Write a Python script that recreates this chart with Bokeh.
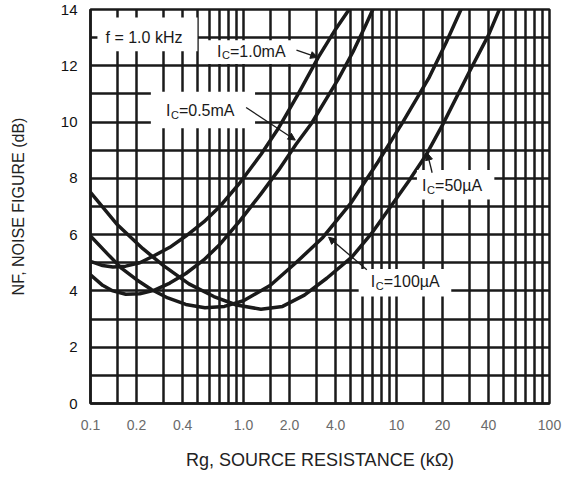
from bokeh.plotting import figure
from bokeh.models import FixedTicker, Label, Arrow, NormalHead, BoxAnnotation
from bokeh.embed import file_html
from bokeh.resources import INLINE

# ---- data ----
x_ticks = [0.1, 0.2, 0.4, 1, 2, 4, 10, 20, 40, 100]
x_tick_labels = ["0.1", "0.2", "0.4", "1.0", "2.0", "4.0", "10", "20", "40", "100"]
y_ticks = [0, 2, 4, 6, 8, 10, 12, 14]

rs_1000 = [0.1, 0.12, 0.14, 0.17, 0.21, 0.26, 0.33, 0.42, 0.55, 0.7, 0.95, 1.3, 1.7, 2.28, 3.08, 4.0, 4.9]
nf_1000 = [5.05, 4.9, 4.85, 4.88, 5.0, 5.25, 5.55, 5.95, 6.45, 7.0, 7.85, 8.85, 9.8, 11.0, 12.3, 13.3, 14.0]

rs_500 = [0.1, 0.12, 0.14, 0.17, 0.21, 0.26, 0.33, 0.42, 0.55, 0.7, 0.95, 1.3, 1.7, 2.2, 2.78, 3.5, 4.19, 5.2, 6.3, 7.0]
nf_500 = [4.57, 4.2, 4.0, 3.88, 3.9, 4.02, 4.28, 4.62, 5.1, 5.65, 6.5, 7.45, 8.3, 9.2, 9.95, 10.85, 11.55, 12.5, 13.45, 14.0]

rs_100 = [0.1, 0.13, 0.16, 0.2, 0.25, 0.32, 0.42, 0.56, 0.75, 1.0, 1.5, 2.2, 3.3, 5.0, 7.6, 11.0, 16.4, 21.0, 26.4]
nf_100 = [5.95, 5.3, 4.8, 4.4, 4.05, 3.75, 3.52, 3.4, 3.45, 3.65, 4.2, 5.0, 5.9, 7.1, 8.6, 10.0, 11.6, 12.8, 14.0]

rs_50 = [0.1, 0.15, 0.22, 0.3, 0.44, 0.64, 0.9, 1.3, 1.8, 2.5, 3.5, 5.1, 7.0, 8.9, 12.0, 15.5, 20.0, 30.0, 40.0, 47.0]
nf_50 = [7.5, 6.35, 5.5, 4.9, 4.25, 3.8, 3.5, 3.35, 3.45, 3.85, 4.45, 5.2, 6.1, 6.9, 7.9, 8.8, 9.9, 11.8, 13.1, 14.0]

INK = "#1a1a1a"
FONT = "Liberation Sans"

p = figure(width=565, height=472, x_axis_type="log", x_range=(0.1, 100), y_range=(0, 14),
           output_backend="svg", toolbar_location=None,
           min_border_left=90, min_border_right=16, min_border_top=9, min_border_bottom=60)
p.background_fill_color = "white"
p.border_fill_color = "white"
p.outline_line_color = INK
p.outline_line_width = 2.5

# grid: lines at 1, 1.5, 2, 3 ... 9 in each decade
grid_x = [m * d for d in (0.1, 1, 10) for m in (1, 1.5, 2, 3, 4, 5, 6, 7, 8, 9)] + [100]
p.xgrid.ticker = FixedTicker(ticks=grid_x)
p.ygrid.ticker = FixedTicker(ticks=list(range(0, 15)))
for g in (p.xgrid, p.ygrid):
    g.grid_line_color = INK
    g.grid_line_width = 2.5
    g.grid_line_alpha = 1.0

p.xaxis.ticker = FixedTicker(ticks=x_ticks)
p.xaxis.major_label_overrides = {t: l for t, l in zip(x_ticks, x_tick_labels)}
p.yaxis.ticker = FixedTicker(ticks=y_ticks)
for ax in (p.xaxis, p.yaxis):
    ax.axis_line_color = INK
    ax.axis_line_width = 2.5
    ax.major_tick_line_color = None
    ax.minor_tick_line_color = None
    ax.major_label_text_font = FONT
    ax.axis_label_text_font = FONT
    ax.axis_label_text_font_style = "normal"
    ax.axis_label_text_color = "#222222"

p.xaxis.major_label_text_font_size = "14px"
p.xaxis.major_label_text_color = "#6a6a6a"
p.xaxis.major_label_standoff = 10
p.xaxis.axis_label = "Rg, SOURCE RESISTANCE (kΩ)"
p.xaxis.axis_label_text_font_size = "18px"
p.xaxis.axis_label_standoff = 17

p.yaxis.major_label_text_font_size = "15px"
p.yaxis.major_label_text_color = "#111111"
p.yaxis.major_label_standoff = 7
p.yaxis.axis_label = "NF, NOISE FIGURE (dB)"
p.yaxis.axis_label_text_font_size = "16px"
p.yaxis.axis_label_standoff = 31

for xs, ys in ((rs_1000, nf_1000), (rs_500, nf_500), (rs_100, nf_100), (rs_50, nf_50)):
    p.line(xs, ys, line_color=INK, line_width=3.5, line_join="round", line_cap="round")

# white boxes behind the annotations
boxes = [
    (0.111, 0.50, 12.52, 13.72),
    (0.52, 2.28, 12.06, 12.91),
    (0.248, 1.19, 9.78, 11.08),
    (13.6, 43.6, 7.25, 8.3),
    (5.66, 22.8, 3.8, 4.78),
]
for l, r, b, t in boxes:
    p.add_layout(BoxAnnotation(left=l, right=r, bottom=b, top=t, fill_color="white",
                               fill_alpha=1.0, line_color=None))

def txt(x, y, s, size="15px", xo=0, yo=0):
    p.add_layout(Label(x=x, y=y, text=s, x_offset=xo, y_offset=yo, text_font=FONT,
                       text_font_size=size, text_color=INK, text_baseline="middle",
                       text_align="left"))

txt(0.1254, 13.01, "f = 1.0 kHz", size="16px")

def ic_label(x, y, rest):
    txt(x, y, "I", size="16px")
    txt(x, y, "C", size="11px", xo=5, yo=-4)
    txt(x, y, rest, size="16px", xo=13)

ic_label(0.671, 12.52, "=1.0mA")
ic_label(0.311, 10.41, "=0.5mA")
ic_label(14.7, 7.74, "=50µA")
ic_label(6.79, 4.33, "=100µA")

arrows = [
    (2.22, 12.56, 3.05, 12.3),
    (1.04, 10.52, 2.18, 9.36),
    (17.1, 8.2, 15.9, 8.9),
    (6.4, 4.75, 3.6, 5.91),
]
for x0, y0, x1, y1 in arrows:
    p.add_layout(Arrow(x_start=x0, y_start=y0, x_end=x1, y_end=y1, line_color=INK, line_width=1.3,
                       end=NormalHead(size=7, fill_color=INK, line_color=INK)))

open("out.html", "w").write(file_html(p, INLINE))
